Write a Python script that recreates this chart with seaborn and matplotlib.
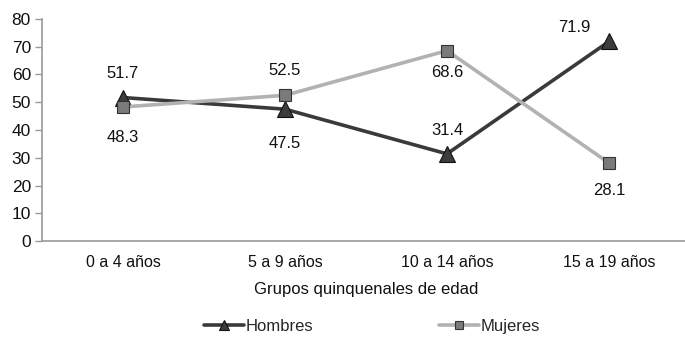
import matplotlib
matplotlib.use("Agg")
import matplotlib.pyplot as plt
import seaborn as sns
import pandas as pd
import numpy as np

categorias = ["0 a 4 años", "5 a 9 años", "10 a 14 años", "15 a 19 años"]
hombres = [51.7, 47.5, 31.4, 71.9]
mujeres = [48.3, 52.5, 68.6, 28.1]
series = ["Hombres", "Mujeres"]
y_ticks = [0, 10, 20, 30, 40, 50, 60, 70, 80]

sns.set_theme(style="white")
plt.rcParams["font.family"] = ["Liberation Sans", "DejaVu Sans"]

df = pd.DataFrame({
    "grupo": categorias * 2,
    "x": list(range(len(categorias))) * 2,
    "valor": hombres + mujeres,
    "sexo": [series[0]] * len(hombres) + [series[1]] * len(mujeres),
})

fig = plt.figure(figsize=(6.85, 3.4), dpi=100)
ax = fig.add_axes([42 / 685, 99 / 340, 648 / 685, 222 / 340])

estilos = {
    "Hombres": dict(color="#3a3a3a", marker="^", mfc="#3c3c3c", mec="#111111", ms=11),
    "Mujeres": dict(color="#b2b2b2", marker="s", mfc="#7a7a7a", mec="#333333", ms=9),
}
for nombre in series:
    sub = df[df["sexo"] == nombre]
    st = estilos[nombre]
    sns.lineplot(data=sub, x="x", y="valor", ax=ax, color=st["color"], lw=2.6,
                 marker=st["marker"], markersize=st["ms"], markerfacecolor=st["mfc"],
                 markeredgecolor=st["mec"], markeredgewidth=0.8, label=nombre)

# label offsets in points (dx, dy)
off_h = [(0, 17), (0, -25), (0, 17), (-25, 10)]
off_m = [(0, -22), (0, 18), (0, -16), (0, -20)]
for i, v in enumerate(hombres):
    ax.annotate(f"{v:.1f}", (i, v), xytext=off_h[i], textcoords="offset points",
                ha="center", va="center", fontsize=12, color="#111111")
for i, v in enumerate(mujeres):
    ax.annotate(f"{v:.1f}", (i, v), xytext=off_m[i], textcoords="offset points",
                ha="center", va="center", fontsize=12, color="#111111")

ax.set_xlim(-0.5, len(categorias) - 0.5)
ax.set_ylim(0, 80)
ax.set_yticks(y_ticks)
ax.set_xticks(range(len(categorias)))
ax.set_xticklabels(categorias, fontsize=11.5)
ax.set_xticks(np.arange(-0.5, len(categorias), 1.0), minor=True)
ax.tick_params(axis="x", which="major", length=0, pad=10, colors="#111111")
ax.tick_params(axis="x", which="minor", length=5, color="#999999", width=1)
ax.tick_params(axis="y", length=5, color="#999999", width=1, labelsize=12.5, pad=3,
               labelcolor="#111111", left=True)
for s in ["top", "right"]:
    ax.spines[s].set_visible(False)
for s in ["left", "bottom"]:
    ax.spines[s].set_color("#999999")
    ax.spines[s].set_linewidth(1.2)
ax.set_xlabel("Grupos quinquenales de edad", fontsize=12, labelpad=9, color="#111111")
ax.set_ylabel("")

handles, labels = ax.get_legend_handles_labels()
ax.legend_.remove()
fig.legend(handles, labels, loc="center", bbox_to_anchor=(0.543, 0.04), ncol=2,
           frameon=False, fontsize=12, columnspacing=7.5, handlelength=2.4,
           handletextpad=0.1, markerscale=0.6)

fig.savefig("out.png", dpi=100)
